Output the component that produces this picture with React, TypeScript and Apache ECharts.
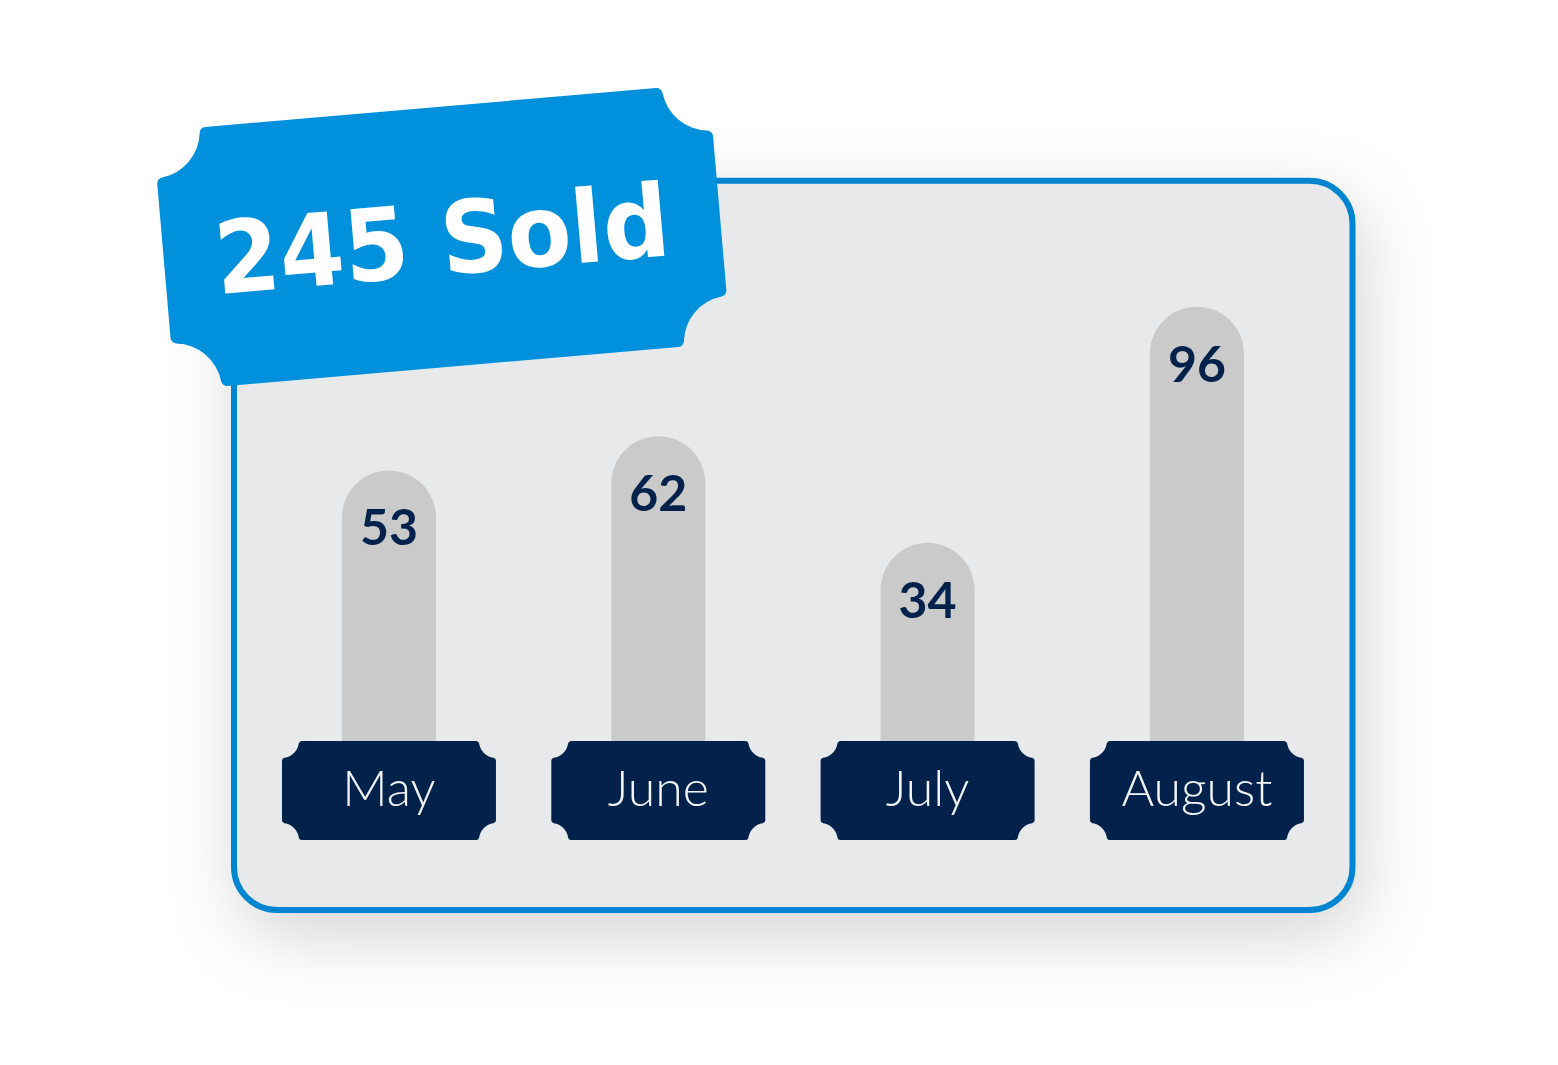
import React, { useEffect, useRef } from "react";
import * as echarts from "echarts";

// ---- data ----
const categories: string[] = ["May", "June", "July", "August"];
const values: number[] = [53, 62, 34, 96];
const totalSold = 245;
const totalLabel = "Sold";

// ---- styles ----
const NAVY = "#03224b";
const BAR = "#cacaca";
const PANEL = "#e8e9eb";
const BORDER = "#0285d1";
const TICKET_BLUE = "#0190dc";

type P = [number, number];

function fmt(p: P): string {
  return `${p[0].toFixed(2)} ${p[1].toFixed(2)}`;
}

// ticket outline: rectangle with concave (scalloped) corners and small rounded tips
function ticketPath(x0: number, y0: number, x1: number, y1: number, r: number, f: number): string {
  const a = Math.sqrt((r + f) * (r + f) - f * f);
  const k = r / (r + f);
  const corner = (X: number, Y: number, dx: number, dy: number) => {
    const Ch: P = [X + dx * a, Y + dy * f];
    const Th: P = [X + dx * a, Y];
    const Nh: P = [X + (Ch[0] - X) * k, Y + (Ch[1] - Y) * k];
    const Cv: P = [X + dx * f, Y + dy * a];
    const Tv: P = [X, Y + dy * a];
    const Nv: P = [X + (Cv[0] - X) * k, Y + (Cv[1] - Y) * k];
    return { Th, Nh, Tv, Nv };
  };
  const tl = corner(x0, y0, 1, 1);
  const tr = corner(x1, y0, -1, 1);
  const br = corner(x1, y1, -1, -1);
  const bl = corner(x0, y1, 1, -1);
  const fa = `A${f} ${f} 0 0 1 `;
  const ra = `A${r} ${r} 0 0 0 `;
  return (
    `M${fmt(tl.Th)} L${fmt(tr.Th)} ${fa}${fmt(tr.Nh)} ${ra}${fmt(tr.Nv)} ${fa}${fmt(tr.Tv)} ` +
    `L${fmt(br.Tv)} ${fa}${fmt(br.Nv)} ${ra}${fmt(br.Nh)} ${fa}${fmt(br.Th)} ` +
    `L${fmt(bl.Th)} ${fa}${fmt(bl.Nh)} ${ra}${fmt(bl.Nv)} ${fa}${fmt(bl.Tv)} ` +
    `L${fmt(tl.Tv)} ${fa}${fmt(tl.Nv)} ${ra}${fmt(tl.Nh)} ${fa}${fmt(tl.Th)} Z`
  );
}

let registered = false;
function registerShapes() {
  if (registered) return;
  registered = true;
  const w = 558;
  const h = 260;
  const d = ticketPath(-w / 2, -h / 2, w / 2, h / 2, 47, 6);
  echarts.graphic.registerShape("bigTicket", echarts.graphic.extendPath(d as any, {}) as any);
}

export default function App() {
  const ref = useRef<HTMLDivElement>(null);

  useEffect(() => {
    if (!ref.current) return;
    registerShapes();
    const chart = echarts.init(ref.current, undefined, { renderer: "svg" });

    const option: any = {
      animation: false,
      backgroundColor: "#ffffff",
      grid: { left: 254.3, width: 1077.3, top: 291.4, height: 449.6, containLabel: false },
      xAxis: {
        type: "category",
        data: categories,
        show: false,
        boundaryGap: true,
      },
      yAxis: {
        type: "value",
        min: -18,
        max: 100,
        show: false,
        splitLine: { show: false },
      },
      graphic: [
        {
          type: "rect",
          z: 0,
          shape: { x: 234, y: 180.7, width: 1118.5, height: 729.3, r: 43 },
          style: {
            fill: PANEL,
            stroke: BORDER,
            lineWidth: 6,
            shadowBlur: 70,
            shadowOffsetX: 8,
            shadowOffsetY: 22,
            shadowColor: "rgba(0,0,0,0.17)",
          },
        },
        {
          type: "group",
          x: 441.8,
          y: 237,
          rotation: 0.0864,
          z: 50,
          children: [
            {
              type: "bigTicket",
              x: 0,
              y: 0,
              z: 50,
              style: { fill: TICKET_BLUE },
            },
            {
              type: "text",
              x: 0,
              y: 3,
              scaleY: 1.08,
              z: 51,
              style: {
                text: `${totalSold} ${totalLabel}`,
                fill: "#ffffff",
                fontSize: 93,
                fontWeight: "bold",
                fontFamily: "DejaVu Sans",
                align: "center",
                verticalAlign: "middle",
              },
            },
          ],
        },
      ],
      series: [
        {
          type: "custom",
          clip: false,
          z: 5,
          data: values.map((v, i) => [i, v]),
          encode: { x: 0, y: 1 },
          renderItem: (params: any, api: any) => {
            const i = params.dataIndex;
            const top = api.coord([api.value(0), api.value(1)]);
            const cs = params.coordSys;
            const bottom = cs.y + cs.height;
            const cx = top[0];
            const bw = 94;
            const tw = 214;
            const th = 99;
            return {
              type: "group",
              children: [
                {
                  type: "rect",
                  shape: {
                    x: cx - bw / 2,
                    y: top[1],
                    width: bw,
                    height: bottom - top[1] + 10,
                    r: [bw / 2, bw / 2, 0, 0],
                  },
                  style: { fill: BAR },
                },
                {
                  type: "text",
                  style: {
                    text: String(values[i]),
                    x: cx,
                    y: top[1] + 56,
                    fill: NAVY,
                    fontSize: 50,
                    fontWeight: "bold",
                    fontFamily: "Lato",
                    align: "center",
                    verticalAlign: "middle",
                  },
                },
                {
                  type: "path",
                  shape: { pathData: ticketPath(cx - tw / 2, bottom, cx + tw / 2, bottom + th, 17, 3) },
                  style: { fill: NAVY },
                },
                {
                  type: "text",
                  style: {
                    text: categories[i],
                    x: cx,
                    y: bottom + th / 2 - 4,
                    fill: "#f2f4f8",
                    fontSize: 50,
                    fontWeight: 300,
                    fontFamily: "Lato",
                    align: "center",
                    verticalAlign: "middle",
                  },
                },
              ],
            };
          },
        },
      ],
    };

    chart.setOption(option);
    return () => {
      chart.dispose();
    };
  }, []);

  return (
    <div
      ref={ref}
      style={{ position: "fixed", left: 0, top: 0, width: 1558, height: 1065 }}
    />
  );
}
